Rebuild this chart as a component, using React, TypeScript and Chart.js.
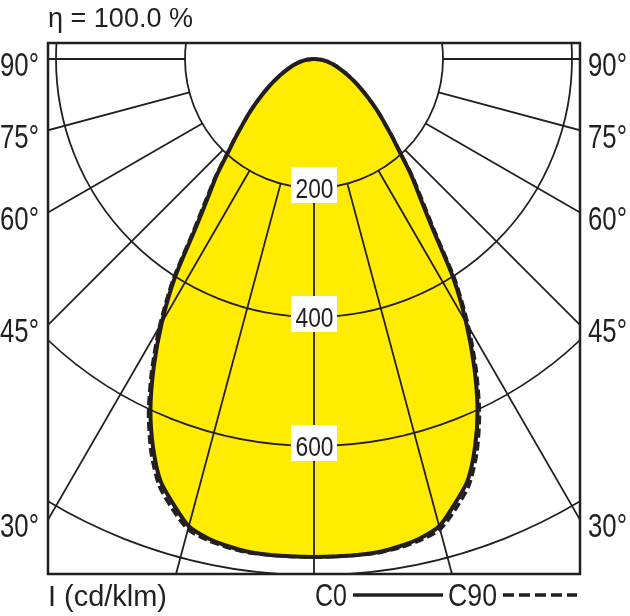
import { useEffect, useRef } from 'react';
import { Chart, registerables } from 'chart.js';

Chart.register(...registerables);

// Angles from nadir (degrees), one half of the symmetric distribution
const angles = [0, 2.5, 5, 7.5, 10, 12.5, 15, 17.5, 20, 22.5, 25, 27.5, 30, 32.5, 35, 37.5, 40, 42.5, 45, 47.5, 50, 52.5, 55, 57.5, 60, 62.5, 65, 67.5, 70, 72.5, 75, 77.5, 80, 82.5, 85, 87.5, 90];
// Luminous intensity, cd/klm
const c0Values = [772, 772, 772, 771, 767, 761, 750, 724, 696, 652, 600, 538, 472, 401, 320, 270, 234, 198, 172, 150, 132, 115, 100, 87, 76, 65, 56, 48, 41, 35, 29, 24, 19, 14, 9, 5, 0];
const c90Values = [772, 772, 772, 772, 769, 764, 755, 731, 703, 660, 607, 545, 479, 408, 326, 275, 237, 200, 173, 150, 132, 115, 100, 87, 76, 65, 56, 48, 41, 35, 29, 24, 19, 14, 9, 5, 0];

const ringValues = [200, 400, 600, 800];
const ringLabelValues = [200, 400, 600];
const gridAngles = [-90, -75, -60, -45, -30, -15, 0, 15, 30, 45, 60, 75, 90];
const sideAngleLabels = [90, 75, 60, 45, 30];
const titleText = 'η = 100.0 %';
const unitText = 'I (cd/klm)';
const legendLabels = ['C0', 'C90'];

const INK = '#231f20';
const YELLOW = '#ffec00';
const FONT = '"Liberation Sans", Arial, sans-serif';

function toPoints(values: number[]) {
  const pts: { x: number; y: number }[] = [];
  for (let i = angles.length - 1; i >= 0; i--) {
    const a = (-angles[i] * Math.PI) / 180;
    pts.push({ x: values[i] * Math.sin(a), y: values[i] * Math.cos(a) });
  }
  for (let i = 1; i < angles.length; i++) {
    const a = (angles[i] * Math.PI) / 180;
    pts.push({ x: values[i] * Math.sin(a), y: values[i] * Math.cos(a) });
  }
  return pts;
}

// Draw condensed text: fits the string to a target width by horizontal scaling.
function fitText(ctx: CanvasRenderingContext2D, text: string, x: number, y: number, size: number, width: number, align: 'left' | 'right' | 'center') {
  ctx.save();
  ctx.font = `${size}px ${FONT}`;
  ctx.textBaseline = 'alphabetic';
  ctx.textAlign = 'left';
  const w = ctx.measureText(text).width || 1;
  const s = width / w;
  let x0 = x;
  if (align === 'right') x0 = x - width;
  else if (align === 'center') x0 = x - width / 2;
  ctx.translate(x0, y);
  ctx.scale(s, 1);
  ctx.fillText(text, 0, 0);
  ctx.restore();
}

const polarPlugin = {
  id: 'polarGrid',
  beforeDatasetsDraw(chart: any) {
    const { ctx, chartArea: a, scales } = chart;
    const xs = scales.x;
    const ys = scales.y;
    const cx = xs.getPixelForValue(0);
    const cy = ys.getPixelForValue(0);
    ctx.save();
    ctx.beginPath();
    ctx.rect(a.left, a.top, a.right - a.left, a.bottom - a.top);
    ctx.clip();
    ctx.strokeStyle = INK;
    ctx.lineWidth = 1.8;
    for (const r of ringValues) {
      const rx = Math.abs(xs.getPixelForValue(r) - cx);
      const ry = Math.abs(ys.getPixelForValue(r) - cy);
      ctx.beginPath();
      ctx.ellipse(cx, cy, rx, ry, 0, 0, Math.PI * 2);
      ctx.stroke();
    }
    const r0 = ringValues[0];
    const r1 = 3000;
    for (const g of gridAngles) {
      const t = (g * Math.PI) / 180;
      ctx.beginPath();
      ctx.moveTo(xs.getPixelForValue(r0 * Math.sin(t)), ys.getPixelForValue(r0 * Math.cos(t)));
      ctx.lineTo(xs.getPixelForValue(r1 * Math.sin(t)), ys.getPixelForValue(r1 * Math.cos(t)));
      ctx.stroke();
    }
    ctx.restore();
  },
  afterDatasetsDraw(chart: any) {
    const { ctx, chartArea: a, scales } = chart;
    const xs = scales.x;
    const ys = scales.y;
    const cx = xs.getPixelForValue(0);
    ctx.save();
    // ring value labels
    for (const v of ringLabelValues) {
      const py = ys.getPixelForValue(v);
      ctx.fillStyle = '#ffffff';
      ctx.fillRect(cx - 23, py - 21, 46, 36);
      ctx.fillStyle = INK;
      fitText(ctx, String(v), cx + 0.5, py + 9.5, 28, 38, 'center');
    }
    // frame
    ctx.strokeStyle = INK;
    ctx.lineWidth = 2.5;
    ctx.strokeRect(a.left, a.top, a.right - a.left, a.bottom - a.top);
    ctx.restore();
  },
  afterDraw(chart: any) {
    const { ctx, chartArea: a, scales } = chart;
    const xs = scales.x;
    const ys = scales.y;
    const cx = xs.getPixelForValue(0);
    const cy = ys.getPixelForValue(0);
    ctx.save();
    ctx.fillStyle = INK;
    // side angle labels where radial lines meet the frame
    for (const deg of sideAngleLabels) {
      const t = (deg * Math.PI) / 180;
      const ly = cy + ((cx - a.left) / Math.tan(t));
      const ry = cy + ((a.right - cx) / Math.tan(t));
      fitText(ctx, `${deg}°`, a.left - 9, ly + 17.5, 33, 39, 'right');
      fitText(ctx, `${deg}°`, a.right + 8, ry + 17.5, 33, 39, 'left');
    }
    // title
    fitText(ctx, titleText, a.left, 27, 28, 145, 'left');
    // unit
    fitText(ctx, unitText, a.left, 606, 30, 119, 'left');
    // legend
    fitText(ctx, legendLabels[0], 315, 606, 32, 32, 'left');
    fitText(ctx, legendLabels[1], 448, 606, 32, 49, 'left');
    ctx.strokeStyle = INK;
    ctx.lineWidth = 3.5;
    ctx.beginPath();
    ctx.moveTo(353, 595);
    ctx.lineTo(443, 595);
    ctx.stroke();
    ctx.setLineDash([11, 5]);
    ctx.beginPath();
    ctx.moveTo(503, 595);
    ctx.lineTo(577, 595);
    ctx.stroke();
    ctx.restore();
  },
};

export default function App() {
  const ref = useRef<HTMLCanvasElement | null>(null);
  useEffect(() => {
    if (!ref.current) return;
    const chart = new Chart(ref.current, {
      type: 'scatter',
      data: {
        datasets: [
          {
            label: legendLabels[0],
            data: toPoints(c0Values),
            showLine: true,
            borderColor: INK,
            borderWidth: 4,
            backgroundColor: YELLOW,
            fill: 'shape',
            pointRadius: 0,
            tension: 0.25,
            order: 0,
          },
          {
            label: legendLabels[1],
            data: toPoints(c90Values),
            showLine: true,
            borderColor: INK,
            borderWidth: 3.5,
            borderDash: [9, 4],
            backgroundColor: 'transparent',
            fill: false,
            pointRadius: 0,
            tension: 0.25,
            order: 1,
          },
        ],
      } as any,
      options: {
        animation: false,
        responsive: false,
        events: [],
        layout: { padding: { left: 48, right: 50, top: 43, bottom: 42 } },
        scales: {
          x: { type: 'linear', min: -412.4, max: 412.4, display: false },
          y: { type: 'linear', min: -24.8, max: 798.4, reverse: true, display: false },
        },
        plugins: {
          legend: { display: false },
          tooltip: { enabled: false },
          filler: { drawTime: 'beforeDatasetsDraw' },
        },
      } as any,
      plugins: [polarPlugin],
    });
    return () => chart.destroy();
  }, []);
  return (
    <div style={{ position: 'absolute', left: 0, top: 0, width: 630, height: 616, background: '#fff' }}>
      <canvas ref={ref} width={630} height={616} style={{ display: 'block' }} />
    </div>
  );
}
